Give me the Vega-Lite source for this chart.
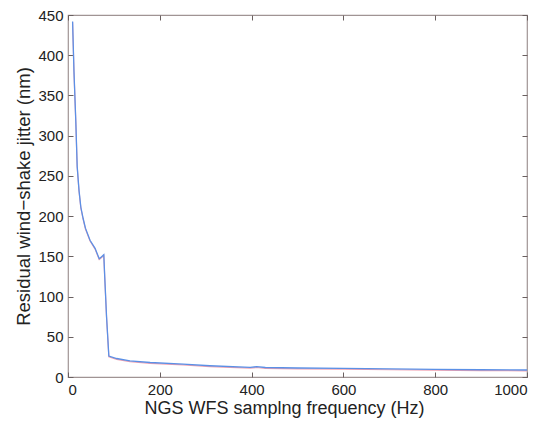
{
  "$schema": "https://vega.github.io/schema/vega-lite/v6.json",
  "width": 459,
  "height": 362,
  "autosize": "none",
  "padding": {"left": 68, "top": 15, "right": 23, "bottom": 44},
  "background": "white",
  "config": {
    "view": {"stroke": "#a09494", "strokeWidth": 1.2},
    "font": "Liberation Sans",
    "axis": {
      "grid": false,
      "domain": false,
      "ticks": true,
      "tickColor": "#6a6060",
      "tickWidth": 1,
      "tickSize": -5,
      "labelFontSize": 15,
      "labelColor": "#222222",
      "titleFontSize": 18,
      "titleFontWeight": "normal",
      "titleColor": "#222222"
    }
  },
  "data": {
    "values": [
      {"f": 10, "j": 442},
      {"f": 13, "j": 380},
      {"f": 17, "j": 318},
      {"f": 20, "j": 262},
      {"f": 24, "j": 232},
      {"f": 28, "j": 211},
      {"f": 33, "j": 197},
      {"f": 38, "j": 185},
      {"f": 48, "j": 170},
      {"f": 59, "j": 160},
      {"f": 68, "j": 147},
      {"f": 72, "j": 149},
      {"f": 78, "j": 152},
      {"f": 80, "j": 125},
      {"f": 84, "j": 75},
      {"f": 89, "j": 26},
      {"f": 106, "j": 23},
      {"f": 135, "j": 20},
      {"f": 179, "j": 18},
      {"f": 251, "j": 16},
      {"f": 309, "j": 14},
      {"f": 397, "j": 12},
      {"f": 411, "j": 12.8},
      {"f": 430, "j": 11.8},
      {"f": 500, "j": 11.2},
      {"f": 600, "j": 10.6},
      {"f": 700, "j": 10},
      {"f": 800, "j": 9.5},
      {"f": 900, "j": 9},
      {"f": 1000, "j": 8.7}
    ]
  },
  "layer": [
    {
      "mark": {"type": "line", "color": "#f0a0b0", "strokeWidth": 1.2, "yOffset": 0.8, "clip": true},
      "encoding": {
        "x": {"field": "f", "type": "quantitative", "scale": {"domain": [0, 1000], "nice": false},
              "axis": {"orient": "top", "labels": false, "title": null, "tickSize": -5, "values": [0, 200, 400, 600, 800, 1000]}},
        "y": {"field": "j", "type": "quantitative", "scale": {"domain": [0, 450], "nice": false},
              "axis": {"orient": "right", "labels": false, "title": null, "tickSize": -5, "values": [0, 50, 100, 150, 200, 250, 300, 350, 400, 450]}}
      }
    },
    {
      "mark": {"type": "line", "color": "#5b90e6", "strokeWidth": 1.3, "clip": true},
      "encoding": {
        "x": {"field": "f", "type": "quantitative", "scale": {"domain": [0, 1000], "nice": false},
              "axis": {"orient": "bottom", "title": "NGS WFS samplng frequency (Hz)", "format": "d", "tickSize": -5, "values": [0, 200, 400, 600, 800, 1000], "labelPadding": 10, "titlePadding": 2, "titleX": 216}},
        "y": {"field": "j", "type": "quantitative", "scale": {"domain": [0, 450], "nice": false},
              "axis": {"orient": "left", "title": "Residual wind−shake jitter (nm)", "format": "d", "tickSize": -5, "values": [0, 50, 100, 150, 200, 250, 300, 350, 400, 450], "labelPadding": 10, "titlePadding": 4, "titleFontSize": 18.5}}
      }
    }
  ],
  "resolve": {"scale": {"x": "independent", "y": "independent"}}
}
